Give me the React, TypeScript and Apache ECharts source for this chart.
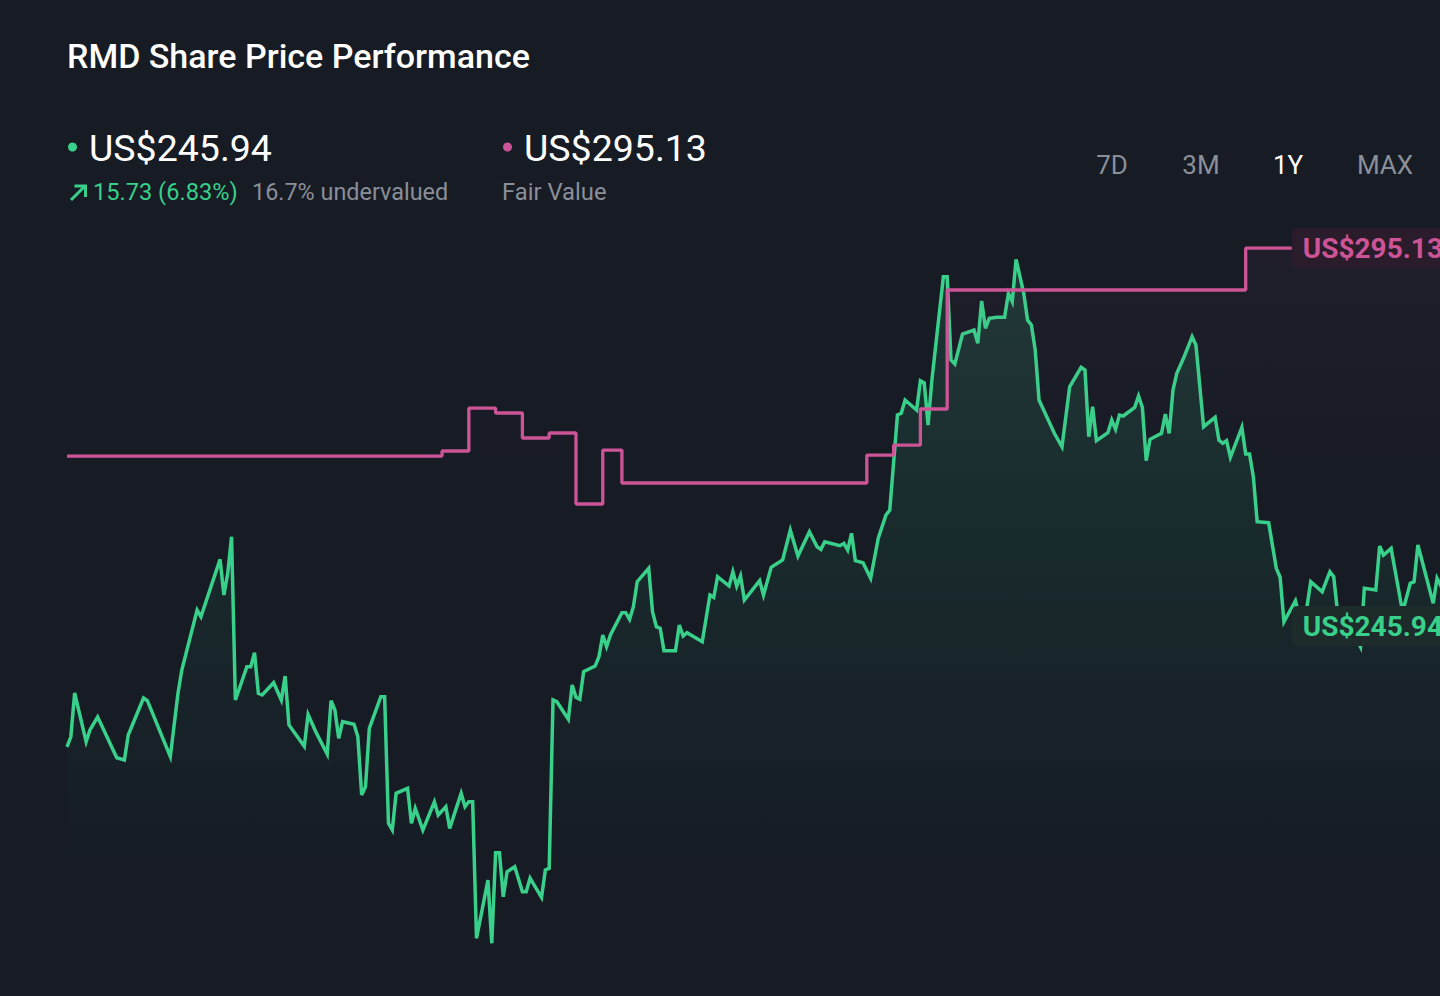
import React, { useEffect, useRef } from "react";
import * as echarts from "echarts";

// ---- data ----
const priceDays = [
  0, 1, 2, 5, 6, 8, 9, 13, 15, 16, 20, 21, 27, 29, 30, 34, 35, 40, 41, 42, 43, 44, 47, 48, 49, 50, 51, 54, 56, 57, 58,
  62, 63, 65, 68, 69, 70, 71, 72, 75, 76, 77, 78, 79, 82, 83, 84, 85, 86, 89, 90, 91, 93, 96, 97, 99, 100, 103, 104,
  105, 106, 107, 110, 111, 112, 113, 114, 115, 117, 119, 120, 121, 124, 125, 126, 127, 128, 131, 132, 133, 134, 135,
  138, 139, 140, 141, 142, 145, 146, 147, 148, 149, 152, 153, 154, 155, 156, 159, 160, 161, 162, 166, 168, 169, 170,
  173, 174, 175, 176, 177, 181, 182, 184, 187, 189, 191, 194, 196, 197, 198, 202, 203, 204, 205, 206, 208, 210, 212,
  214, 215, 217, 218, 219, 222, 223, 224, 225, 226, 229, 230, 231, 232, 234, 237, 238, 239, 240, 241, 243, 245, 246,
  247, 248, 250, 251, 252, 253, 254, 258, 260, 262, 265, 266, 267, 268, 269, 272, 273, 274, 275, 276, 279, 280, 281,
  282, 283, 286, 287, 288, 289, 290, 292, 294, 295, 297, 300, 301, 302, 303, 304, 307, 308, 309, 310, 311, 314, 316,
  317, 318, 321, 323, 325, 328, 330, 331, 332, 335, 338, 339, 342, 343, 344, 346, 349, 351, 352, 353, 357, 358, 360,
  362, 364,
];
const priceValues = [
  230.21, 231.53, 237.22, 230.88, 232.41, 234.1, 233.06, 228.8, 228.5, 231.75, 236.57, 236.22, 228.93, 237.18, 240.21,
  248.02, 247.15, 254.62, 249.97, 252.8, 257.56, 236.31, 240.64, 240.64, 242.47, 237.18, 236.96, 238.56, 236.31,
  239.43, 233.06, 230.28, 234.42, 232.18, 229.28, 236.22, 235.01, 231.33, 233.49, 233.15, 231.53, 223.95, 225.03,
  232.63, 236.74, 236.74, 220.26, 219.39, 224.17, 224.82, 220.26, 222.22, 219.39, 223.07, 221.34, 222.42, 219.61,
  224.17, 222.42, 223.07, 223.07, 205.3, 212.88, 204.65, 216.44, 216.44, 210.71, 213.96, 214.61, 211.36, 211.36,
  213.14, 210.63, 214.19, 214.41, 236.31, 236.09, 233.8, 238.26, 236.66, 236.4, 239.99, 240.73, 241.94, 244.77,
  243.25, 244.77, 247.67, 247.67, 246.81, 248.45, 251.71, 253.45, 247.8, 245.85, 245.64, 242.73, 242.73, 246.07,
  244.64, 245.07, 243.9, 249.97, 249.67, 252.36, 251.15, 253.01, 251.15, 252.45, 249.32, 251.84, 249.97, 253.58,
  254.53, 258.43, 255.05, 258.21, 256.26, 255.92, 256.91, 256.39, 256.7, 255.83, 258.0, 254.44, 254.18, 252.15,
  257.39, 260.39, 261.04, 273.4, 273.62, 275.35, 274.05, 277.86, 277.6, 272.1, 277.95, 291.4, 291.4, 280.56, 280.04,
  283.94, 284.46, 282.73, 288.24, 284.68, 285.98, 286.11, 286.11, 289.24, 288.14, 293.66, 289.24, 285.76, 285.11,
  281.86, 275.35, 271.02, 269.27, 277.08, 279.61, 279.26, 270.58, 274.48, 270.06, 271.1, 272.75, 271.54, 273.4,
  273.27, 274.4, 275.87, 274.4, 267.45, 270.24, 271.02, 273.53, 271.02, 276.65, 278.83, 281.08, 283.59, 282.51,
  271.88, 273.1, 270.15, 269.72, 270.06, 267.9, 271.8, 268.32, 268.32, 265.37, 259.51, 259.38, 253.45, 252.28, 246.5,
  249.23, 245.16, 251.71, 250.4, 253.01, 252.36, 247.76, 246.07, 243.21, 250.85, 250.63, 256.35, 255.18, 256.05,
  247.76, 251.5, 251.71, 256.48, 248.89, 252.15, 250.2, 247.5, 245.94,
];
const fairValueDays = [0, 98, 105, 112, 119, 126, 133, 140, 145, 209, 216, 223, 230, 308, 364];
const fairValues = [
  268.06, 268.72, 274.31, 273.66, 270.41, 271.06, 261.82, 268.84, 264.55, 268.19, 269.49, 274.18, 289.67, 295.13,
  295.13,
];
const rangeTabs = ["7D", "3M", "1Y", "MAX"];
const selectedTab = "1Y";
const lastPrice = 245.94;
const fairValue = 295.13;
const changeAbs = 15.73;
const changePct = 6.83;
const undervaluedPct = 16.7;
const ticker = "RMD";

// ---- styles ----
const BG = "#161b24";
const GREEN = "#38d08a";
const PINK = "#cd5496";
const GRAY = "#8a8f98";
const FONT = "Roboto, 'Noto Sans', sans-serif";

export default function App() {
  const ref = useRef<HTMLDivElement>(null);

  useEffect(() => {
    if (!ref.current) return;
    const chart = echarts.init(ref.current, undefined, { renderer: "svg" });

    const priceData = priceDays.map((d, i) => [d, priceValues[i]]);
    const fvData = fairValueDays.map((d, i) => [d, fairValues[i]]);

    const tabCenters = [1112, 1201, 1288, 1385];

    const graphic: any[] = [
      {
        type: "text",
        x: 67,
        y: 56,
        style: {
          text: `${ticker} Share Price Performance`,
          fill: "#ffffff",
          fontFamily: FONT,
          fontSize: 34,
          fontWeight: 500,
          align: "left",
          verticalAlign: "middle",
        },
      },
      { type: "circle", shape: { cx: 72.5, cy: 147, r: 4.5 }, style: { fill: GREEN } },
      {
        type: "text",
        x: 89,
        y: 148,
        style: {
          text: `US$${lastPrice.toFixed(2)}`,
          fill: "#ffffff",
          fontFamily: FONT,
          fontSize: 37.5,
          align: "left",
          verticalAlign: "middle",
        },
      },
      {
        type: "polyline",
        shape: { points: [[71, 200], [85.5, 185.5]] },
        style: { stroke: GREEN, lineWidth: 3, fill: null },
      },
      {
        type: "polyline",
        shape: { points: [[74.5, 186], [85.5, 186], [85.5, 197]] },
        style: { stroke: GREEN, lineWidth: 3, fill: null },
      },
      {
        type: "text",
        x: 93,
        y: 192,
        style: {
          text: `${changeAbs.toFixed(2)} (${changePct.toFixed(2)}%)`,
          fill: GREEN,
          fontFamily: FONT,
          fontSize: 23.6,
          align: "left",
          verticalAlign: "middle",
        },
      },
      {
        type: "text",
        x: 252,
        y: 192,
        style: {
          text: `${undervaluedPct.toFixed(1)}% undervalued`,
          fill: GRAY,
          fontFamily: FONT,
          fontSize: 23.4,
          align: "left",
          verticalAlign: "middle",
        },
      },
      { type: "circle", shape: { cx: 507.5, cy: 147, r: 4.5 }, style: { fill: PINK } },
      {
        type: "text",
        x: 524,
        y: 148,
        style: {
          text: `US$${fairValue.toFixed(2)}`,
          fill: "#ffffff",
          fontFamily: FONT,
          fontSize: 37.5,
          align: "left",
          verticalAlign: "middle",
        },
      },
      {
        type: "text",
        x: 502,
        y: 192,
        style: {
          text: "Fair Value",
          fill: GRAY,
          fontFamily: FONT,
          fontSize: 23.8,
          align: "left",
          verticalAlign: "middle",
        },
      },
      ...rangeTabs.map((t, i) => ({
        type: "text",
        x: tabCenters[i],
        y: 165,
        style: {
          text: t,
          fill: t === selectedTab ? "#ffffff" : GRAY,
          fontFamily: FONT,
          fontSize: 26,
          align: "center",
          verticalAlign: "middle",
        },
      })),
    ];

    chart.setOption({
      animation: false,
      backgroundColor: BG,
      grid: { left: 67, right: 10, top: 220, bottom: 0, containLabel: false },
      xAxis: {
        type: "value",
        min: 0,
        max: 364,
        show: false,
        splitLine: { show: false },
      },
      yAxis: {
        type: "value",
        min: 197.79,
        max: 298.78,
        show: false,
        splitLine: { show: false },
      },
      graphic,
      series: [
        {
          type: "line",
          data: priceData,
          showSymbol: false,
          symbol: "none",
          lineStyle: { color: GREEN, width: 3.5, join: "miter" },
          itemStyle: { color: GREEN },
          areaStyle: {
            origin: "start",
            color: new echarts.graphic.LinearGradient(0, 0, 0, 1, [
              { offset: 0, color: "rgba(56,208,138,0.22)" },
              { offset: 0.45, color: "rgba(56,208,138,0.1)" },
              { offset: 0.83, color: "rgba(56,208,138,0.0)" },
              { offset: 1, color: "rgba(56,208,138,0.0)" },
            ]),
          },
          endLabel: {
            show: true,
            formatter: () => `US$${lastPrice.toFixed(2)}`,
            align: "right",
            distance: 0,
            offset: [-6, 0],
            color: GREEN,
            fontFamily: FONT,
            fontWeight: "bold",
            fontSize: 28,
            backgroundColor: "#1d2b2b",
            padding: [6, 11, 6, 11],
            borderRadius: 6,
          },
          z: 2,
        },
        {
          type: "line",
          data: fvData,
          step: "end",
          showSymbol: false,
          symbol: "none",
          lineStyle: { color: PINK, width: 3.3 },
          itemStyle: { color: PINK },
          areaStyle: {
            origin: "start",
            color: new echarts.graphic.LinearGradient(0, 0, 0, 1, [
              { offset: 0, color: "rgba(205,84,150,0.07)" },
              { offset: 0.35, color: "rgba(205,84,150,0.0)" },
              { offset: 1, color: "rgba(205,84,150,0.0)" },
            ]),
          },
          endLabel: {
            show: true,
            formatter: () => `US$${fairValue.toFixed(2)}`,
            align: "right",
            distance: 0,
            offset: [-6, 0],
            color: PINK,
            fontFamily: FONT,
            fontWeight: "bold",
            fontSize: 28,
            backgroundColor: "#2a1c2a",
            padding: [6, 11, 6, 11],
            borderRadius: 6,
          },
          z: 3,
        },
      ],
    });

    return () => chart.dispose();
  }, []);

  return (
    <div
      style={{
        position: "fixed",
        left: 0,
        top: 0,
        width: 1440,
        height: 996,
        overflow: "hidden",
        background: BG,
      }}
    >
      <div ref={ref} style={{ width: 1470, height: 996 }} />
    </div>
  );
}
